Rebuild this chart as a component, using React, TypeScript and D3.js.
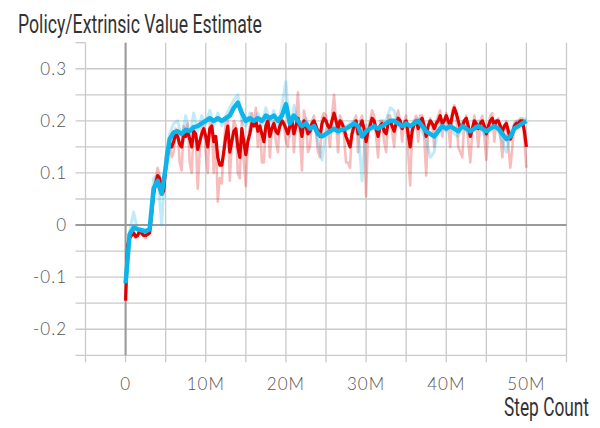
import React from "react";
import * as d3 from "d3";

// Step values (in millions)
const redStepsM: number[] = d3.range(0, 50.001, 0.25);
const blueStepsM: number[] = d3.range(0, 50.001, 0.5);

// Smoothed red series (0.25M spacing)
const redSmooth: number[] = [
  -0.145, -0.04, -0.025, -0.02, -0.015, -0.022, -0.02, -0.012,
  -0.016, -0.02, -0.02, -0.018, -0.015, 0.02, 0.06, 0.08,
  0.095, 0.09, 0.07, 0.065, 0.11, 0.14, 0.155, 0.15,
  0.16, 0.175, 0.17, 0.155, 0.15, 0.175, 0.17, 0.18,
  0.165, 0.15, 0.18, 0.175, 0.145, 0.16, 0.175, 0.185,
  0.17, 0.15, 0.185, 0.19, 0.16, 0.17, 0.13, 0.115,
  0.115, 0.14, 0.17, 0.19, 0.14, 0.16, 0.18, 0.185,
  0.15, 0.13, 0.185, 0.16, 0.135, 0.16, 0.175, 0.195,
  0.19, 0.2, 0.18, 0.19, 0.175, 0.16, 0.19, 0.2,
  0.17, 0.185, 0.195, 0.18, 0.175, 0.19, 0.2, 0.195,
  0.185, 0.175, 0.19, 0.2, 0.175, 0.19, 0.205, 0.19,
  0.17, 0.2, 0.19, 0.175, 0.18, 0.195, 0.2, 0.19,
  0.18, 0.17, 0.195, 0.205, 0.2, 0.19, 0.185, 0.2,
  0.215, 0.2, 0.185, 0.2, 0.195, 0.185, 0.17, 0.16,
  0.15, 0.175, 0.19, 0.2, 0.175, 0.19, 0.2, 0.185,
  0.16, 0.18, 0.19, 0.205, 0.2, 0.185, 0.17, 0.19,
  0.195, 0.18, 0.175, 0.195, 0.2, 0.19, 0.18, 0.195,
  0.205, 0.2, 0.185, 0.195, 0.2, 0.175, 0.15, 0.18,
  0.195, 0.2, 0.185, 0.2, 0.205, 0.19, 0.17, 0.19,
  0.2, 0.195, 0.185, 0.195, 0.2, 0.21, 0.195, 0.2,
  0.21, 0.2, 0.19, 0.21, 0.225, 0.215, 0.2, 0.185,
  0.19, 0.2, 0.205, 0.19, 0.17, 0.185, 0.2, 0.195,
  0.185, 0.195, 0.2, 0.19, 0.175, 0.19, 0.2, 0.205,
  0.19, 0.2, 0.2, 0.19, 0.18, 0.19, 0.195, 0.18,
  0.165, 0.175, 0.19, 0.195, 0.195, 0.2, 0.2, 0.18,
  0.15,
];

// Raw red series (0.25M spacing)
const redRaw: number[] = [
  -0.145, -0.035, -0.02, -0.015, -0.01, -0.025, -0.022, -0.01,
  -0.015, -0.022, -0.025, -0.015, -0.012, 0.03, 0.07, 0.09,
  0.11, 0.095, 0.06, 0.06, 0.13, 0.15, 0.16, 0.13,
  0.14, 0.185, 0.18, 0.12, 0.105, 0.19, 0.18, 0.195,
  0.12, 0.1, 0.19, 0.17, 0.07, 0.14, 0.19, 0.2,
  0.14, 0.1, 0.2, 0.2, 0.1, 0.17, 0.045, 0.09,
  0.08, 0.15, 0.2, 0.21, 0.085, 0.16, 0.2, 0.19,
  0.1, 0.09, 0.2, 0.12, 0.075, 0.16, 0.19, 0.215,
  0.19, 0.225, 0.15, 0.2, 0.12, 0.12, 0.2, 0.21,
  0.13, 0.19, 0.2, 0.16, 0.14, 0.2, 0.205, 0.19,
  0.16, 0.15, 0.2, 0.21, 0.14, 0.2, 0.255, 0.17,
  0.105, 0.22, 0.2, 0.14, 0.15, 0.2, 0.21, 0.18,
  0.14, 0.13, 0.205, 0.215, 0.21, 0.18, 0.15, 0.21,
  0.25, 0.2, 0.14, 0.21, 0.2, 0.17, 0.12, 0.12,
  0.11, 0.19, 0.2, 0.21, 0.14, 0.2, 0.21, 0.17,
  0.055, 0.18, 0.2, 0.22, 0.21, 0.17, 0.13, 0.2,
  0.2, 0.16, 0.14, 0.21, 0.21, 0.18, 0.15, 0.2,
  0.22, 0.2, 0.16, 0.2, 0.21, 0.14, 0.076, 0.18,
  0.2, 0.21, 0.16, 0.21, 0.21, 0.17, 0.095, 0.19,
  0.205, 0.19, 0.15, 0.2, 0.21, 0.22, 0.17, 0.2,
  0.215, 0.19, 0.15, 0.22, 0.23, 0.21, 0.15, 0.14,
  0.13, 0.2, 0.21, 0.16, 0.12, 0.18, 0.21, 0.19,
  0.15, 0.2, 0.21, 0.17, 0.125, 0.19, 0.21, 0.215,
  0.16, 0.2, 0.205, 0.17, 0.13, 0.19, 0.2, 0.15,
  0.11, 0.15, 0.195, 0.2, 0.2, 0.205, 0.205, 0.16,
  0.11,
];

// Smoothed blue series (0.5M spacing)
const blueSmooth: number[] = [
  -0.112, -0.018, -0.005, -0.008, -0.01, -0.012, -0.008, 0.07, 0.085, 0.06,
  0.11, 0.165, 0.178, 0.18, 0.175, 0.183, 0.18, 0.188, 0.19, 0.195,
  0.2, 0.205, 0.2, 0.205, 0.2, 0.205, 0.21, 0.225, 0.235, 0.215,
  0.2, 0.205, 0.2, 0.205, 0.2, 0.21, 0.205, 0.21, 0.2, 0.21,
  0.232, 0.195, 0.21, 0.2, 0.19, 0.195, 0.185, 0.19, 0.175, 0.17,
  0.175, 0.18, 0.185, 0.18, 0.183, 0.185, 0.19, 0.195, 0.19, 0.17,
  0.18, 0.185, 0.19, 0.185, 0.19, 0.195, 0.2, 0.2, 0.195, 0.19,
  0.195, 0.19, 0.195, 0.2, 0.19, 0.18, 0.175, 0.17, 0.18, 0.19,
  0.185, 0.19, 0.185, 0.18, 0.19, 0.185, 0.18, 0.185, 0.19, 0.185,
  0.18, 0.185, 0.19, 0.185, 0.175, 0.165, 0.17, 0.185, 0.19, 0.195,
  0.2,
];

// Raw blue series (0.5M spacing)
const blueRaw: number[] = [
  -0.112, -0.012, 0.025, -0.01, -0.012, -0.015, -0.005, 0.09, 0.095, 0.0,
  0.13, 0.175, 0.195, 0.2, 0.165, 0.21, 0.17, 0.215, 0.18, 0.21,
  0.195, 0.22, 0.19, 0.215, 0.19, 0.21, 0.225, 0.24, 0.25, 0.2,
  0.19, 0.215, 0.19, 0.215, 0.19, 0.225, 0.195, 0.22, 0.19, 0.23,
  0.275, 0.17, 0.23, 0.195, 0.18, 0.205, 0.175, 0.2, 0.16, 0.125,
  0.18, 0.19, 0.19, 0.175, 0.19, 0.19, 0.195, 0.2, 0.185, 0.085,
  0.19, 0.195, 0.185, 0.18, 0.2, 0.2, 0.225, 0.22, 0.19, 0.185,
  0.2, 0.18, 0.2, 0.205, 0.18, 0.165, 0.13, 0.14, 0.19, 0.2,
  0.18, 0.2, 0.175, 0.17, 0.2, 0.18, 0.17, 0.195, 0.2, 0.18,
  0.17, 0.2, 0.195, 0.18, 0.16, 0.14, 0.175, 0.195, 0.2, 0.2,
  0.205,
];

const yTickValues: number[] = [0.3, 0.2, 0.1, 0, -0.1, -0.2];
const yTickLabels: string[] = ["0.3", "0.2", "0.1", "0", "-0.1", "-0.2"];
const xTickValues: number[] = [0, 10, 20, 30, 40, 50];
const xTickLabels: string[] = ["0", "10M", "20M", "30M", "40M", "50M"];

const TITLE = "Policy/Extrinsic Value Estimate";
const X_TITLE = "Step Count";

const W = 600;
const H = 428;
const PL = 85.5;
const PR = 566.5;
const PT = 42.7;
const PB = 355.3;

const RED = "#e00000";
const BLUE = "#0bb4ea";

export default function App() {
  const x = d3.scaleLinear().domain([-5, 55]).range([PL, PR]);
  const y = d3.scaleLinear().domain([-0.25, 0.35]).range([PB, PT]);

  const vGrid = d3.range(-5, 55.001, 5);
  const hGrid = d3.range(-0.25, 0.301, 0.05);

  const mk = (steps: number[], vals: number[]) =>
    d3
      .line<number>()
      .x((_, i) => x(steps[i]))
      .y((v) => y(v))(vals) || "";

  const tickFont = "Lato, 'Open Sans', sans-serif";
  const titleFont = "Roboto, 'DejaVu Sans', sans-serif";
  const SX = 0.64;

  return (
    <svg
      width={W}
      height={H}
      style={{ position: "absolute", left: 0, top: 0, background: "#fff" }}
    >
      {/* grid */}
      <g stroke="#cacaca" strokeWidth={1.3}>
        {vGrid.map((v) => (
          <line key={"v" + v} x1={x(v)} x2={x(v)} y1={PT} y2={PB + 7} />
        ))}
        {hGrid.map((v) => (
          <line key={"h" + v} x1={PL - 10} x2={PR} y1={y(v)} y2={y(v)} />
        ))}
        <line x1={PL - 10} x2={PL} y1={y(0.35)} y2={y(0.35)} />
      </g>
      {/* zero lines */}
      <g stroke="#9a9a9a" strokeWidth={2}>
        <line x1={x(0)} x2={x(0)} y1={PT} y2={PB} />
        <line x1={PL - 10} x2={PR} y1={y(0)} y2={y(0)} />
      </g>

      {/* raw lines */}
      <path d={mk(redStepsM, redRaw)} fill="none" stroke={RED} strokeOpacity={0.26} strokeWidth={2.6} strokeLinejoin="round" />
      <path d={mk(blueStepsM, blueRaw)} fill="none" stroke={BLUE} strokeOpacity={0.26} strokeWidth={3} strokeLinejoin="round" />
      {/* smoothed lines */}
      <path d={mk(redStepsM, redSmooth)} fill="none" stroke={RED} strokeWidth={3.2} strokeLinejoin="round" />
      <path d={mk(blueStepsM, blueSmooth)} fill="none" stroke={BLUE} strokeWidth={4.5} strokeLinejoin="round" />

      {/* y tick labels */}
      <g fontFamily={tickFont} fontWeight={300} fontSize={17} fill="#555" textAnchor="end">
        {yTickValues.map((v, i) => (
          <text key={"yt" + i} x={67} y={y(v)} dy="0.36em" letterSpacing={1}>
            {yTickLabels[i]}
          </text>
        ))}
      </g>
      {/* x tick labels */}
      <g fontFamily={tickFont} fontWeight={300} fontSize={17} fill="#555" textAnchor="middle">
        {xTickValues.map((v, i) => (
          <text key={"xt" + i} x={x(v)} y={390} letterSpacing={1}>
            {xTickLabels[i]}
          </text>
        ))}
      </g>

      {/* titles (horizontally condensed) */}
      <g transform={`translate(18,33) scale(${SX},1)`}>
        <text
          x={0}
          y={0}
          fontFamily={titleFont}
          fontSize={26}
          fill="#333"
          textLength={244 / SX}
          lengthAdjust="spacingAndGlyphs"
        >
          {TITLE}
        </text>
      </g>
      <g transform={`translate(589,416) scale(${SX},1)`}>
        <text
          x={0}
          y={0}
          textAnchor="end"
          fontFamily={titleFont}
          fontSize={26}
          fill="#333"
          textLength={85 / SX}
          lengthAdjust="spacingAndGlyphs"
        >
          {X_TITLE}
        </text>
      </g>
    </svg>
  );
}
